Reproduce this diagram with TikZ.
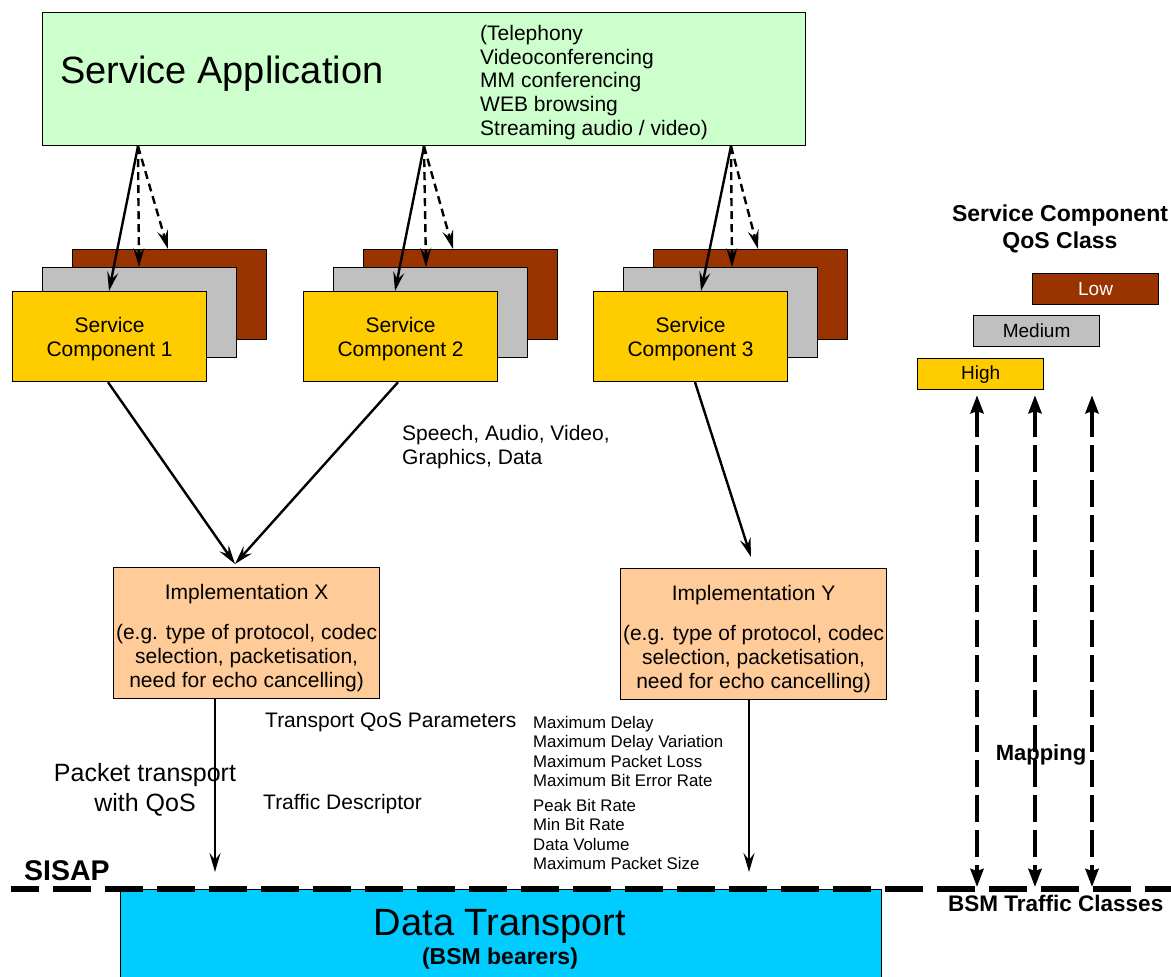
\documentclass[tikz,border=0pt]{standalone}
\usepackage{fontspec}
\setmainfont{Liberation Sans}
\usetikzlibrary{positioning, arrows.meta}
\definecolor{appgreen}{HTML}{CCFFCC}
\definecolor{hiyellow}{HTML}{FFCC00}
\definecolor{medgray}{HTML}{C0C0C0}
\definecolor{lowbrown}{HTML}{993300}
\definecolor{implpeach}{HTML}{FFCC99}
\definecolor{bearercyan}{HTML}{00CCFF}

\begin{document}
\begin{tikzpicture}[
        x=1pt, y=-1pt,
        box/.style={draw, line width=1.2pt, inner sep=0pt, anchor=north west, align=center},
        app/.style={box, fill=appgreen, minimum width=763pt, minimum height=133pt},
        comp/.style={box, minimum width=194pt, minimum height=90pt},
        high/.style={comp, fill=hiyellow},
        medium/.style={comp, fill=medgray},
        low/.style={comp, fill=lowbrown},
        impl/.style={box, fill=implpeach, minimum width=266pt, minimum height=131pt},
        qos/.style={box, minimum width=126pt, minimum height=31pt, font=\fontsize{19}{22}\selectfont},
        txt/.style={inner sep=0pt, align=left, font=\fontsize{21}{24}\selectfont},
        small/.style={inner sep=0pt, align=left, anchor=west, font=\fontsize{16.8}{19.4}\selectfont},
        hdr/.style={inner sep=0pt, align=center, font=\fontsize{23}{27}\selectfont\bfseries},
        flow/.style={line width=2.4pt, -{Stealth[length=19pt, width=11pt, inset=7pt]}},
        opt/.style={flow, dash pattern=on 8pt off 5pt},
        map/.style={line width=4pt, dash pattern=on 27pt off 8pt,
            {Stealth[length=18pt, width=13pt, inset=2pt]}-{Stealth[length=18pt, width=13pt, inset=2pt]}},
    ]
    \useasboundingbox (0,0) rectangle (1171,977);
    \clip (0,0) rectangle (1171,977);

    % service application
    \node[app] (app) at (42,12) {};
    \node[txt, anchor=base west, font=\fontsize{38}{44}\selectfont] (apptitle) at (60,83.6) {Service Application};
    \node[txt, anchor=west, font=\fontsize{21}{23.9}\selectfont] (applist) at (480,82.5)
        {(Telephony\\Videoconferencing\\MM conferencing\\WEB browsing\\Streaming audio / video)};

    % service components, stacked by QoS class
    \node[low]    (low1)  at (72,249)  {};
    \node[medium] (med1)  at (42,267)  {};
    \node[high]   (high1) at (12,291)  {};
    \node[low]    (low2)  at (363,249) {};
    \node[medium] (med2)  at (333,267) {};
    \node[high]   (high2) at (303,291) {};
    \node[low]    (low3)  at (653,249) {};
    \node[medium] (med3)  at (623,267) {};
    \node[high]   (high3) at (593,291) {};
    \node[txt, align=center] (comp1) at ([yshift=-2pt]high1.center) {Service\\Component 1};
    \node[txt, align=center] (comp2) at ([yshift=-2pt]high2.center) {Service\\Component 2};
    \node[txt, align=center] (comp3) at ([yshift=-2pt]high3.center) {Service\\Component 3};

    \draw[flow] ([xshift=96pt]app.south west) -- ([xshift=97pt]high1.north west);
    \draw[opt]  ([xshift=96pt]app.south west) -- ([xshift=97pt]med1.north west);
    \draw[opt]  ([xshift=96pt]app.south west) -- ([xshift=96pt]low1.north west);
    \draw[flow] ([xshift=382pt]app.south west) -- ([xshift=92pt]high2.north west);
    \draw[opt]  ([xshift=382pt]app.south west) -- ([xshift=93pt]med2.north west);
    \draw[opt]  ([xshift=382pt]app.south west) -- ([xshift=90pt]low2.north west);
    \draw[flow] ([xshift=689pt]app.south west) -- ([xshift=108pt]high3.north west);
    \draw[opt]  ([xshift=689pt]app.south west) -- ([xshift=109pt]med3.north west);
    \draw[opt]  ([xshift=689pt]app.south west) -- ([xshift=105pt]low3.north west);

    \node[txt, anchor=west] (media) at (402,447) {Speech, Audio, Video,\\Graphics, Data};

    % implementations
    \node[impl] (implx) at (113,567) {};
    \node[impl] (imply) at (620,568) {};
    \node[txt, align=center] (implxt) at ([yshift=-5pt]implx.center)
        {Implementation X\\[16pt](e.g. type of protocol, codec\\selection, packetisation,\\need for echo cancelling)};
    \node[txt, align=center] (implyt) at ([yshift=-5pt]imply.center)
        {Implementation Y\\[16pt](e.g. type of protocol, codec\\selection, packetisation,\\need for echo cancelling)};

    \draw[flow] ([xshift=96pt]high1.south west) -- ([xshift=122pt, yshift=3pt]implx.north west);
    \draw[flow] ([xshift=95pt]high2.south west) -- ([xshift=122pt, yshift=3pt]implx.north west);
    \draw[flow] ([xshift=102pt]high3.south west) -- ([xshift=131pt, yshift=11pt]imply.north west);

    % transport parameters
    \node[txt, anchor=base west] (tqos) at (265,727.5) {Transport QoS Parameters};
    \node[txt, anchor=base west] (tdesc) at (263,809.5) {Traffic Descriptor};
    \node[small] (qoslist) at (533,751.6) {Maximum Delay\\Maximum Delay Variation\\Maximum Packet Loss\\Maximum Bit Error Rate};
    \node[small] (desclist) at (533,834.6) {Peak Bit Rate\\Min Bit Rate\\Data Volume\\Maximum Packet Size};
    \node[txt, align=center, font=\fontsize{25}{30}\selectfont] (pkt) at (145,789.5) {Packet transport\\with QoS};

    % data transport
    \node[box, fill=bearercyan, minimum width=761pt, minimum height=110pt] (bearer) at (120,889) {};
    \node[txt, anchor=base, font=\fontsize{38}{44}\selectfont] (dt) at (500,935.6) {Data Transport};
    \node[txt, anchor=base, font=\fontsize{23}{27}\selectfont\bfseries] (bsmb) at (500,964.6) {(BSM bearers)};

    \draw[flow] ([xshift=102pt]implx.south west) -- ([xshift=95pt, yshift=17pt]bearer.north west);
    \draw[flow] ([xshift=129pt]imply.south west) -- ([xshift=629pt, yshift=17pt]bearer.north west);

    % SISAP
    \coordinate (sisapl) at (11,889);
    \coordinate (sisapr) at (1180,889);
    \draw[line width=6pt, dash pattern=on 38pt off 14pt, dash phase=10pt] (sisapl) -- (sisapr);
    \node[txt, anchor=base west, font=\fontsize{28.5}{34}\selectfont\bfseries] (sisap) at (24,880) {SISAP};
    \node[txt, anchor=base west, font=\fontsize{22.5}{27}\selectfont\bfseries] (bsmtc) at (948,911) {BSM Traffic Classes};

    % QoS class legend
    \node[hdr] (legend) at (1060,228.8) {Service Component\\QoS Class};
    \node[qos, fill=lowbrown, text=white] (lowq) at (1032,273) {Low};
    \node[qos, fill=medgray] (medq) at (973,315) {Medium};
    \node[qos, fill=hiyellow] (hiq) at (917,358) {High};

    % mapping
    \coordinate (bsm1) at (977,887);
    \coordinate (bsm2) at (1035,887);
    \coordinate (bsm3) at (1092,887);
    \draw[map] ([xshift=60pt, yshift=-5pt]hiq.south west) -- (bsm1);
    \draw[map] ([xshift=118pt, yshift=-5pt]hiq.south west) -- (bsm2);
    \draw[map] ([xshift=175pt, yshift=-5pt]hiq.south west) -- (bsm3);
    \node[txt, anchor=base, font=\fontsize{22}{26}\selectfont\bfseries] (mapping) at (1041,760) {Mapping};
\end{tikzpicture}
\end{document}
